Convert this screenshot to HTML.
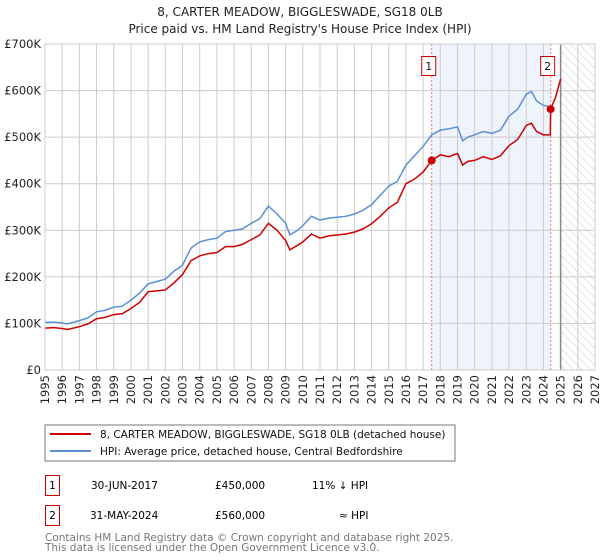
<!DOCTYPE html>
<html><head><meta charset="utf-8"><style>
body{margin:0;background:#fff;}
svg{display:block;font-family:"DejaVu Sans","Liberation Sans",sans-serif;}
</style></head><body>
<svg id="chart" width="600" height="560" viewBox="0 0 600 560">
<defs>
<pattern id="hatch" width="6" height="6" patternUnits="userSpaceOnUse" patternTransform="rotate(-45)">
<rect width="6" height="6" fill="#fff"/><line x1="0" y1="0" x2="0" y2="6" stroke="#ccc" stroke-width="1"/>
</pattern>
</defs>
<text x="300" y="16" text-anchor="middle" font-size="12" fill="#222">8, CARTER MEADOW, BIGGLESWADE, SG18 0LB</text>
<text x="300" y="33" text-anchor="middle" font-size="12" fill="#222">Price paid vs. HM Land Registry's House Price Index (HPI)</text>
<g id="bg"></g>
<g id="grid"></g>
<g id="series"></g>
<g id="axes"></g>
<rect x="45" y="425" width="410" height="36" fill="#fff" stroke="#777"/>
<line x1="50" y1="434" x2="91" y2="434" stroke="#cc0000" stroke-width="2"/>
<text x="100" y="438" font-size="10.5" fill="#111">8, CARTER MEADOW, BIGGLESWADE, SG18 0LB (detached house)</text>
<line x1="50" y1="451" x2="91" y2="451" stroke="#5b8fd6" stroke-width="2"/>
<text x="100" y="455" font-size="10.5" fill="#111">HPI: Average price, detached house, Central Bedfordshire</text>
<g>
<rect x="45.5" y="475.5" width="14" height="20" fill="#fff" stroke="#cc0000"/>
<text x="52.5" y="489" font-size="10.5" text-anchor="middle">1</text>
<text x="91" y="489" font-size="10.5">30-JUN-2017</text>
<text x="215" y="489" font-size="10.5">£450,000</text>
<text x="312" y="489" font-size="10.5">11% ↓ HPI</text>
</g>
<g>
<rect x="45.5" y="505.5" width="14" height="20" fill="#fff" stroke="#cc0000"/>
<text x="52.5" y="519" font-size="10.5" text-anchor="middle">2</text>
<text x="90" y="519" font-size="10.5">31-MAY-2024</text>
<text x="215" y="519" font-size="10.5">£560,000</text>
<text x="339" y="519" font-size="10.5">≈ HPI</text>
</g>
<text x="45" y="541" font-size="10.5" fill="#777">Contains HM Land Registry data © Crown copyright and database right 2025.</text>
<text x="45" y="551" font-size="10.5" fill="#777">This data is licensed under the Open Government Licence v3.0.</text>
</svg>
<script>
const hpiYears=[1995,1995.5,1996,1996.3,1997,1997.5,1998,1998.5,1999,1999.5,2000,2000.5,2001,2001.5,2002,2002.5,2003,2003.5,2004,2004.5,2005,2005.5,2006,2006.5,2007,2007.5,2008,2008.5,2009,2009.25,2009.7,2010,2010.5,2011,2011.5,2012,2012.5,2013,2013.5,2014,2014.5,2015,2015.5,2016,2016.5,2017,2017.5,2018,2018.5,2019,2019.3,2019.6,2020,2020.5,2021,2021.5,2022,2022.5,2023,2023.3,2023.6,2024,2024.4];
const hpiValues=[102,103,101,99,106,112,125,128,135,137,150,165,185,190,195,212,225,262,275,280,283,297,300,303,315,325,352,335,315,290,300,310,330,322,326,328,330,335,343,355,375,395,405,440,460,480,505,515,518,522,492,500,505,512,508,515,545,560,592,598,578,568,565];
const priceYears=[1995,1995.5,1996,1996.3,1997,1997.5,1998,1998.5,1999,1999.5,2000,2000.5,2001,2001.5,2002,2002.5,2003,2003.5,2004,2004.5,2005,2005.5,2006,2006.5,2007,2007.5,2008,2008.5,2009,2009.25,2009.7,2010,2010.5,2011,2011.5,2012,2012.5,2013,2013.5,2014,2014.5,2015,2015.5,2016,2016.5,2017,2017.5,2018,2018.5,2019,2019.3,2019.6,2020,2020.5,2021,2021.5,2022,2022.5,2023,2023.3,2023.6,2024,2024.4,2024.42,2024.7,2025.0];
const priceValues=[90,91,89,87,93,99,110,113,119,121,132,145,168,170,172,187,205,235,245,250,252,265,265,270,280,290,315,300,278,258,268,275,292,283,288,290,292,296,303,314,330,348,360,400,410,425,450,462,458,465,440,448,450,458,452,460,482,495,525,530,512,505,505,560,585,625];
const saleYears=[2017.5,2024.42];
const saleValues=[450,560];
const saleLabels=["1","2"];
const yTicks=[0,100,200,300,400,500,600,700];
const yTickLabels=["£0","£100K","£200K","£300K","£400K","£500K","£600K","£700K"];
const xTicks=[1995,1996,1997,1998,1999,2000,2001,2002,2003,2004,2005,2006,2007,2008,2009,2010,2011,2012,2013,2014,2015,2016,2017,2018,2019,2020,2021,2022,2023,2024,2025,2026,2027];
const forecastStart=2025;

const X0=45,X1=595,Y0=370,Y1=44;
const xs=y=>X0+(y-1995)/(2027-1995)*(X1-X0);
const ys=v=>Y0-v/700*(Y0-Y1);
const NS="http://www.w3.org/2000/svg";
function mk(tag,attrs,parent){const e=document.createElementNS(NS,tag);for(const k in attrs)e.setAttribute(k,attrs[k]);parent.appendChild(e);return e;}
const bg=document.getElementById('bg'),grid=document.getElementById('grid'),ser=document.getElementById('series'),ax=document.getElementById('axes');

let r=mk('rect',{x:xs(saleYears[0]),y:Y1,width:xs(saleYears[1])-xs(saleYears[0]),height:Y0-Y1,fill:'#eef3fc'},bg);


r=mk('rect',{x:xs(forecastStart),y:Y1,width:X1-xs(forecastStart),height:Y0-Y1,fill:'url(#hatch)'},bg);



yTicks.forEach((t,i)=>{
  const l=mk('line',{x1:X0,x2:X1,y1:ys(t),y2:ys(t),stroke:'#ccc','stroke-width':1},grid);
  
  
  const tx=mk('text',{x:X0-4,y:ys(t)+4,'text-anchor':'end','font-size':'11.5',fill:'#222'},ax);
  tx.textContent=yTickLabels[i];
  
  
});
xTicks.forEach(t=>{
  const l=mk('line',{x1:xs(t),x2:xs(t),y1:Y1,y2:Y0,stroke:'#ccc','stroke-width':1},grid);
  
  
  const tx=mk('text',{x:0,y:0,'text-anchor':'end','font-size':'11.5',fill:'#222',transform:`translate(${xs(t)+4},${Y0+5}) rotate(-90)`},ax);
  tx.textContent=String(t);
  
  
});
let fl=mk('line',{x1:xs(forecastStart),x2:xs(forecastStart),y1:Y1,y2:Y0,stroke:'#888','stroke-width':1.5},grid);



saleYears.forEach((y,i)=>{
  const l=mk('line',{x1:xs(y),x2:xs(y),y1:Y1,y2:Y0,stroke:'#f07070','stroke-width':1,'stroke-dasharray':'2,2'},ser);
  
  
});

let p=mk('polyline',{points:hpiYears.map((y,i)=>xs(y)+','+ys(hpiValues[i])).join(' '),fill:'none',stroke:'#5b8fd6','stroke-width':1.5},ser);


p=mk('polyline',{points:priceYears.map((y,i)=>xs(y)+','+ys(priceValues[i])).join(' '),fill:'none',stroke:'#cc0000','stroke-width':1.5},ser);



saleYears.forEach((y,i)=>{
  const c=mk('circle',{cx:xs(y),cy:ys(saleValues[i]),r:4,fill:'#cc0000'},ser);
  
  
  const bx=xs(y)-10;
  const b=mk('rect',{x:bx,y:56.5,width:14,height:19,fill:'#fff',stroke:'#cc0000'},ser);
  
  
  const t=mk('text',{x:bx+7,y:70,'text-anchor':'middle','font-size':'11',fill:'#111'},ser);
  t.textContent=saleLabels[i];
  
  
});
let bd=mk('rect',{x:X0,y:Y1,width:X1-X0,height:Y0-Y1,fill:'none',stroke:'#ccc'},ax);


</script>
</body></html>
